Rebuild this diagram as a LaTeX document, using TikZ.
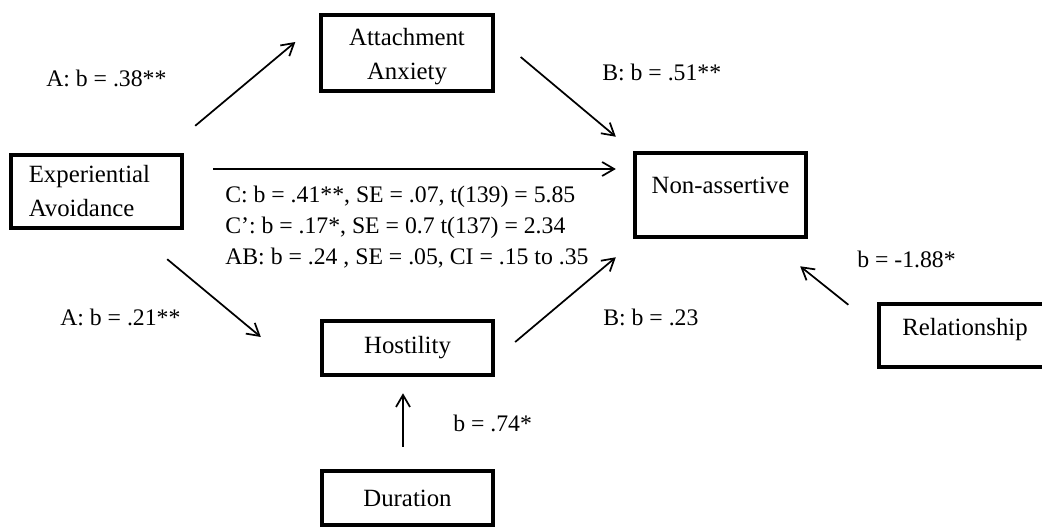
\documentclass[tikz,border=0pt]{standalone}
\usepackage{fontspec}
\setmainfont{Liberation Serif}
\usetikzlibrary{positioning,calc,arrows.meta}

\begin{document}
\begin{tikzpicture}[
        x=0.75pt, y=-0.75pt, % one unit = one pixel of the figure, y downwards
        every node/.style={font=\fontsize{18.6pt}{25.5pt}\selectfont},
        box/.style={draw, rectangle, line width=3pt, align=center, minimum width=128.5pt}, % variable boxes
        coef/.style={anchor=base west, inner sep=0pt, font=\fontsize{17.8pt}{23.25pt}\selectfont}, % path coefficients
        arrow style/.style={-{Straight Barb[length=9pt,width=10.5pt]}, line width=1.3pt}
    ]
    \useasboundingbox (0,0) rectangle (1042,528);

    \node[box, align=left, text width=101.5pt, inner xsep=13.5pt, minimum height=55pt] (EA) at (96.5,191.5) {Experiential\\Avoidance};
    \node[box, minimum height=57.4pt, text height=44.25pt] (AA) at (407,53) {Attachment\\Anxiety};
    \node[box, minimum height=63.4pt, text height=12.75pt, text depth=15.75pt] (NA) at (720.5,195) {Non-assertive};
    \node[box, minimum height=40.9pt] (H) at (407.5,348) {Hostility};
    \node[box, minimum height=40.9pt] (D) at (407.5,498) {Duration};
    \node[box, minimum height=47.6pt, text height=12.75pt, text depth=13.5pt] (R) at (965,335.5) {Relationship};

    \draw[arrow style] ($(EA.north east)+(11,-27)$) -- ($(AA.west)+(-24,-11)$);
    \draw[arrow style] ($(AA.east)+(26,4)$) -- ($(NA.north west)+(-17,-14)$);
    \draw[arrow style] ($(EA.east)+(29,-22.5)$) -- ($(NA.west)+(-17,-26)$); % direct path
    \draw[arrow style] ($(EA.south east)+(-17,29)$) -- ($(H.west)+(-59,-11)$);
    \draw[arrow style] ($(H.east)+(20,-6)$) -- ($(NA.south west)+(-17,18)$);
    \draw[arrow style] ($(R.north west)+(-29,3)$) -- ($(NA.south east)+(-8,27)$);
    \draw[arrow style] ($(D.north)+(-4.5,-22)$) -- ($(H.south)+(-4.5,16)$);

    \node[coef] (A1) at (46,87) {A: b = .38**};
    \node[coef] (B1) at (602,80) {B: b = .51**};
    \node[coef] (A2) at (60,325) {A: b = .21**};
    \node[coef] (B2) at (603,325) {B: b = .23};
    \node[coef] (Rb) at (857,267) {b = -1.88*};
    \node[coef] (Db) at (453,431) {b = .74*};
    \node[coef, anchor=west, align=left] (C) at (225,227)
        {C: b = .41**, SE = .07, t(139) = 5.85\\C’: b = .17*, SE = 0.7 t(137) = 2.34\\AB: b = .24 , SE = .05, CI = .15 to .35};
\end{tikzpicture}
\end{document}
